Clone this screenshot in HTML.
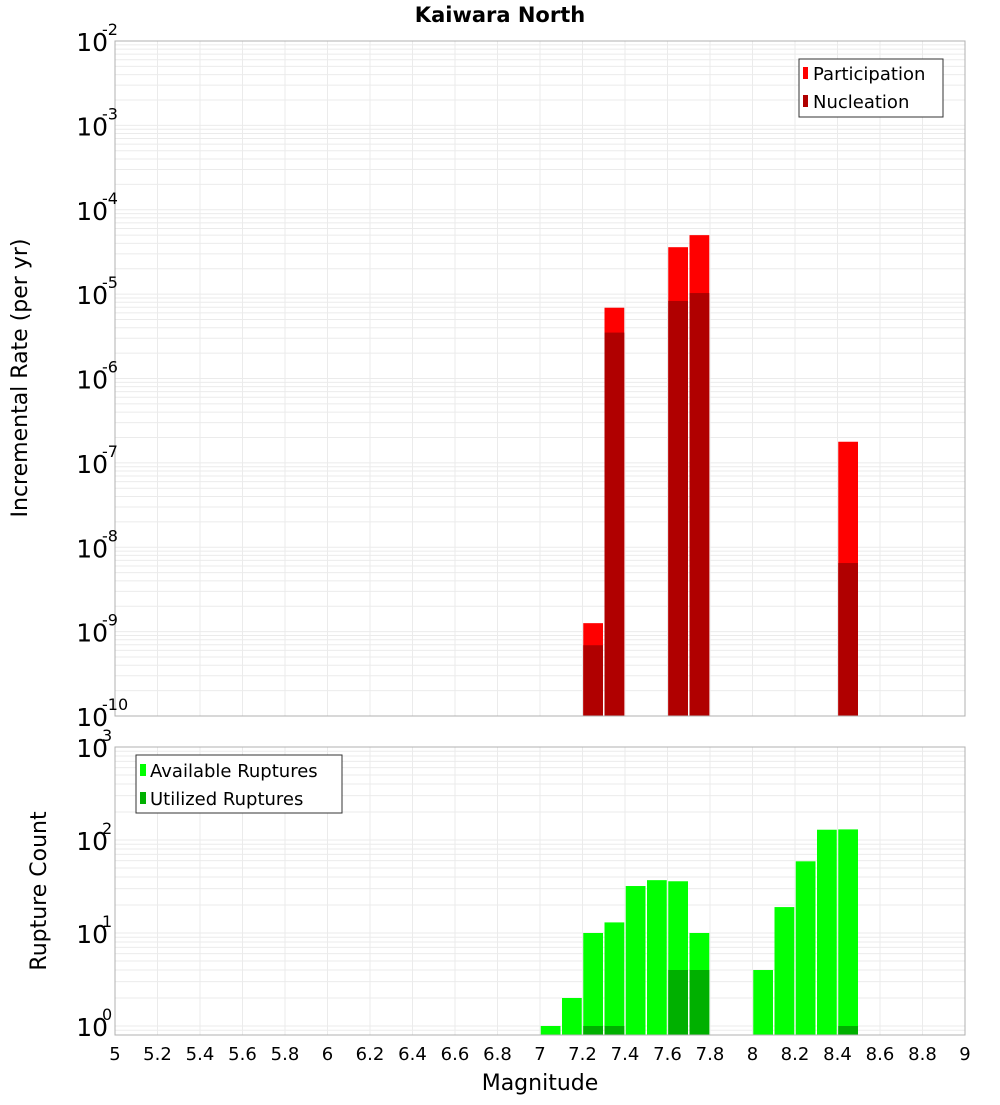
<!DOCTYPE html>
<html><head><meta charset="utf-8"><style>
body{margin:0;background:#fff;}
svg text{font-family:"DejaVu Sans","Liberation Sans",sans-serif;}
</style></head><body>
<svg id="chart" width="1000" height="1100" xmlns="http://www.w3.org/2000/svg">
<text x="500" y="22" text-anchor="middle" font-size="21" font-weight="bold">Kaiwara North</text>
<g id="top"></g>
<g id="bot"></g>
<text transform="translate(27,378) rotate(-90)" text-anchor="middle" font-size="22">Incremental Rate (per yr)</text>
<text transform="translate(46,891) rotate(-90)" text-anchor="middle" font-size="22">Rupture Count</text>
<text x="540" y="1090" text-anchor="middle" font-size="22">Magnitude</text>
</svg>
<script>
const binCenters=[7.25,7.35,7.65,7.75,8.45];
const participation=[1.26e-9,6.9e-6,3.6e-5,5.0e-5,1.78e-7];
const nucleation=[6.9e-10,3.5e-6,8.3e-6,1.03e-5,6.5e-9];
const countBins=[7.05,7.15,7.25,7.35,7.45,7.55,7.65,7.75,8.05,8.15,8.25,8.35,8.45];
const available=[1,2,10,13,32,37,36,10,4,19,59,129,130];
const utilized=[0,0,1,1,0,0,4,4,0,0,0,0,1];
const xTicks=[5,5.2,5.4,5.6,5.8,6,6.2,6.4,6.6,6.8,7,7.2,7.4,7.6,7.8,8,8.2,8.4,8.6,8.8,9];
const topExps=[-2,-3,-4,-5,-6,-7,-8,-9,-10];
const botExps=[3,2,1,0];

const NS='http://www.w3.org/2000/svg';
const X0=115,X1=965;
const xs=m=>X0+(m-5)/4*(X1-X0);
function mk(p,t,a){const e=document.createElementNS(NS,t);for(const k in a)e.setAttribute(k,a[k]);p.appendChild(e);return e;}
function panel(g,top,bottom,yfn,lmin,lmax,name){
  mk(g,'rect',{x:X0,y:top,width:X1-X0,height:bottom-top,fill:'#fff'});
  for(const t of xTicks){const l=mk(g,'line',{x1:xs(t),x2:xs(t),y1:top,y2:bottom,stroke:'#ebebeb','stroke-width':1});
    }
  for(let e=Math.floor(lmin);e<=lmax;e++){for(let k=1;k<10;k++){const v=Math.log10(k)+e;if(v<lmin||v>lmax)continue;
    const y=yfn(Math.pow(10,v));const l=mk(g,'line',{x1:X0,x2:X1,y1:y,y2:y,stroke:'#ebebeb','stroke-width':1});
    }}
}
// top
const tg=document.getElementById('top');
const TT=41,TB=716;
const ty=v=>TB-(Math.log10(v)+10)*(TB-TT)/8;
panel(tg,TT,TB,ty,-10,-2,'top');
const bw=(xs(5.1)-xs(5))-1.5;
binCenters.forEach((m,i)=>{
  let r=mk(tg,'rect',{x:xs(m)-bw/2,y:ty(participation[i]),width:bw,height:TB-ty(participation[i]),fill:'#ff0000'});
  
  r=mk(tg,'rect',{x:xs(m)-bw/2,y:ty(nucleation[i]),width:bw,height:TB-ty(nucleation[i]),fill:'#b00000'});
  
});
mk(tg,'rect',{x:X0,y:TT,width:X1-X0,height:TB-TT,fill:'none',stroke:'#b0b0b0'});
topExps.forEach(e=>{const y=ty(Math.pow(10,e));
  const t=mk(tg,'text',{x:108,y:y+10,'text-anchor':'end','font-size':25});
  
  t.textContent='10';
  const s=mk(tg,'text',{x:102,y:y-6,'font-size':16});s.textContent=String(e);
  
});
// top legend
let lg=mk(tg,'g',{});
mk(lg,'rect',{x:799,y:59,width:144,height:58,fill:'#fff',stroke:'#333'});
mk(lg,'rect',{x:803,y:67,width:5,height:12,fill:'#ff0000'});
mk(lg,'rect',{x:803,y:95,width:5,height:12,fill:'#b00000'});
let t=mk(lg,'text',{x:813,y:80,'font-size':18});t.textContent='Participation';
t=mk(lg,'text',{x:813,y:108,'font-size':18});t.textContent='Nucleation';
// bottom
const bg=document.getElementById('bot');
const BT=747,BB=1035,Y0=1026,DEC=93;
const by=v=>Y0-Math.log10(v)*DEC;
panel(bg,BT,BB,by,Math.log10(0.8),3,'bottom');
countBins.forEach((m,i)=>{
  let r=mk(bg,'rect',{x:xs(m)-bw/2,y:by(available[i]),width:bw,height:BB-by(available[i]),fill:'#00ff00'});
  
  if(utilized[i]>0){r=mk(bg,'rect',{x:xs(m)-bw/2,y:by(utilized[i]),width:bw,height:BB-by(utilized[i]),fill:'#00b000'});
  }
});
mk(bg,'rect',{x:X0,y:BT,width:X1-X0,height:BB-BT,fill:'none',stroke:'#b0b0b0'});
botExps.forEach(e=>{const y=by(Math.pow(10,e));
  const t=mk(bg,'text',{x:108,y:y+10,'text-anchor':'end','font-size':25});t.textContent='10';
  
  const s=mk(bg,'text',{x:102,y:y-6,'font-size':16});s.textContent=String(e);
  
});
xTicks.forEach(v=>{const t=mk(bg,'text',{x:xs(v),y:1060,'text-anchor':'middle','font-size':18});
  t.textContent=String(v);});
lg=mk(bg,'g',{});
mk(lg,'rect',{x:136,y:755,width:206,height:58,fill:'#fff',stroke:'#333'});
mk(lg,'rect',{x:140,y:764,width:6,height:12,fill:'#00ff00'});
mk(lg,'rect',{x:140,y:792,width:6,height:12,fill:'#00b000'});
t=mk(lg,'text',{x:150,y:777,'font-size':18});t.textContent='Available Ruptures';
t=mk(lg,'text',{x:150,y:805,'font-size':18});t.textContent='Utilized Ruptures';
</script>
</body></html>
